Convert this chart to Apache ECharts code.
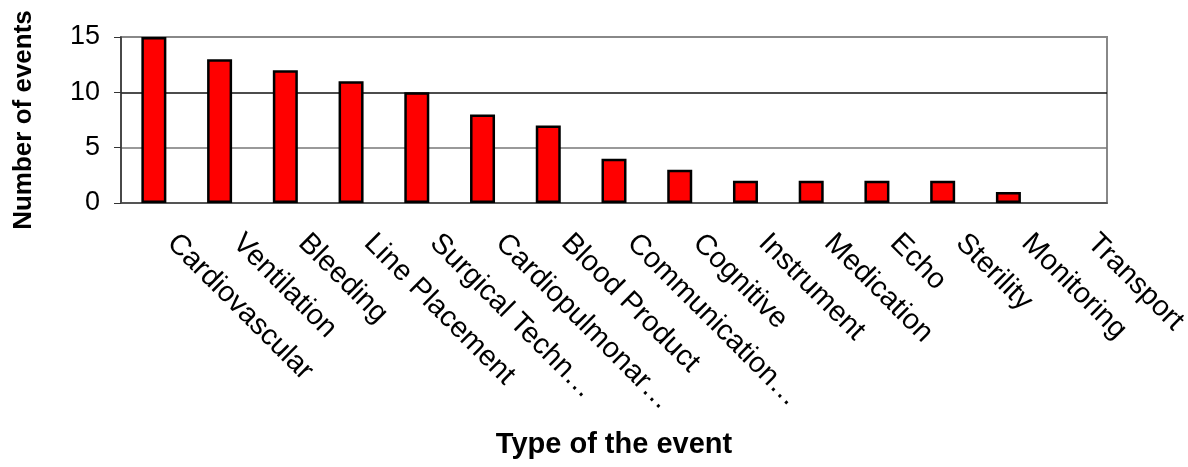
<!doctype html>
<html>
<head>
<meta charset="utf-8">
<title>Type of the event</title>
<script src="https://cdn.jsdelivr.net/npm/echarts@6/dist/echarts.min.js"></script>
<style>
	body{ margin:0; background:#fff; }
	#main{ width:1188px; height:467px; }
</style>
</head>
<body>
<div id="main"></div>
<script>
	// categories and counts
	var categories = ['Cardiovascular', 'Ventilation', 'Bleeding', 'Line Placement', 'Surgical Techn…',
		'Cardiopulmonar…', 'Blood Product', 'Communication…', 'Cognitive', 'Instrument',
		'Medication', 'Echo', 'Sterility', 'Monitoring', 'Transport'];
	var events = [15, 13, 12, 11, 10, 8, 7, 4, 3, 2, 2, 2, 2, 1, 0];
	var yTicks = [0, 5, 10, 15];

	var myChart = echarts.init(document.getElementById('main'));
	var font = 'Liberation Sans, Arial, sans-serif';

	// a bar of 0 should not leave its outline on the axis
	var barData = events.map(function (v) {
		return v === 0 ? { value: v, itemStyle: { borderWidth: 0 } } : v;
	});

	var option = {
		animation: false,
		grid: {
			left: 121, top: 37, right: 81, bottom: 264,
			outerBoundsMode: 'none', containLabel: false,
			show: true, borderColor: '#888', borderWidth: 2
		},
		xAxis: {
			type: 'category',
			data: categories,
			name: 'Type of the event',
			nameLocation: 'middle',
			nameGap: 227,
			nameTextStyle: { fontFamily: font, fontWeight: 'bold', fontSize: 29, color: '#000' },
			axisLine: { lineStyle: { color: '#444', width: 1.5 } },
			axisTick: { length: 7, lineStyle: { color: '#333' } },
			axisLabel: {
				interval: 0, rotate: -45, margin: 18,
				padding: [0, 0, 0, 25],
				fontFamily: font, fontSize: 29, color: '#000'
			},
			splitLine: { show: false }
		},
		yAxis: {
			type: 'value',
			min: yTicks[0], max: yTicks[yTicks.length - 1], interval: 5,
			name: 'Number of events',
			nameLocation: 'middle',
			nameGap: 84,
			nameTextStyle: { fontFamily: font, fontWeight: 'bold', fontSize: 26, color: '#000' },
			axisLine: { show: true, lineStyle: { color: '#333', width: 1.5 } },
			axisTick: { show: true, length: 7, lineStyle: { color: '#333' } },
			axisLabel: { margin: 21, fontFamily: font, fontSize: 27, color: '#000' },
			splitLine: { lineStyle: { color: ['#888', '#777', '#111', '#888'], width: 1.5 } }
		},
		series: [{
			type: 'bar',
			data: barData,
			barWidth: 25,
			itemStyle: { color: '#ff0000', borderColor: '#000', borderWidth: 2.5 }
		}]
	};
	myChart.setOption(option);
</script>
</body>
</html>
